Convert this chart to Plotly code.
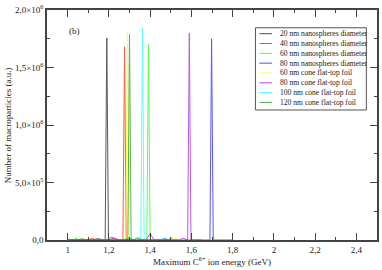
import plotly.graph_objects as go

# ---------------- data ----------------
series_names = [
    "20 nm nanospheres diameter",
    "40 nm nanospheres diameter",
    "60 nm nanospheres diameter",
    "80 nm nanospheres diameter",
    "60 nm cone flat-top foil",
    "80 nm cone flat-top foil",
    "100 nm cone flat-top foil",
    "120 nm cone flat-top foil",
]
series_colors = ["#000000", "#ff0000", "#00ff00", "#0000ff",
                 "#ffff00", "#9400d3", "#00ffff", "#008b00"]

# energy (GeV) / number of macroparticles for each series
x_20nm = [1.00, 1.12, 1.15, 1.17, 1.182, 1.190, 1.198, 1.22, 1.30]
y_20nm = [0, 0, 12000, 0, 0, 1757000, 0, 0, 0]

x_40nm = [1.00, 1.10, 1.12, 1.14, 1.19, 1.21, 1.23, 1.25, 1.268, 1.276, 1.284, 1.30, 1.32, 1.35]
y_40nm = [0, 0, 15000, 0, 0, 25000, 15000, 0, 0, 1680000, 0, 10000, 0, 0]

x_60nm = [1.00, 1.03, 1.04, 1.05, 1.25, 1.30, 1.32, 1.384, 1.392, 1.400, 1.45, 1.49, 1.50, 1.51, 1.55]
y_60nm = [0, 0, 20000, 0, 0, 15000, 0, 0, 1700000, 0, 0, 0, 20000, 0, 0]

x_80nm = [1.00, 1.30, 1.45, 1.47, 1.49, 1.60, 1.690, 1.698, 1.706, 1.75, 1.80]
y_80nm = [0, 0, 0, 12000, 0, 0, 0, 1750000, 0, 0, 0]

x_cone60 = [1.00, 1.08, 1.10, 1.12, 1.20, 1.25, 1.282, 1.290, 1.298, 1.35, 1.50, 1.52, 1.54, 1.57, 1.60]
y_cone60 = [0, 0, 15000, 0, 0, 0, 0, 1800000, 0, 0, 0, 25000, 0, 0, 0]

x_cone80 = [1.00, 1.20, 1.22, 1.24, 1.38, 1.40, 1.42, 1.54, 1.56, 1.582, 1.590, 1.598, 1.65]
y_cone80 = [0, 0, 15000, 0, 0, 55000, 0, 0, 15000, 0, 1800000, 0, 0]

x_cone100 = [1.00, 1.33, 1.345, 1.355, 1.363, 1.371, 1.45, 1.47, 1.49, 1.55]
y_cone100 = [0, 0, 15000, 0, 1840000, 0, 0, 20000, 0, 0]

x_cone120 = [1.00, 1.05, 1.07, 1.09, 1.28, 1.292, 1.300, 1.308, 1.32, 1.34, 1.36, 1.50]
y_cone120 = [0, 0, 12000, 0, 0, 0, 1790000, 0, 0, 20000, 0, 0]

series_x = [x_20nm, x_40nm, x_60nm, x_80nm, x_cone60, x_cone80, x_cone100, x_cone120]
series_y = [y_20nm, y_40nm, y_60nm, y_80nm, y_cone60, y_cone80, y_cone100, y_cone120]

x_tickvals = [1.0, 1.2, 1.4, 1.6, 1.8, 2.0, 2.2, 2.4]
x_ticktext = ["1", "1,2", "1,4", "1,6", "1,8", "2", "2,2", "2,4"]
y_tickvals = [0, 500000, 1000000, 1500000, 2000000]
y_ticktext = ["0,0", "5,0×10<sup>5</sup>", "1,0×10<sup>6</sup>",
              "1,5×10<sup>6</sup>", "2,0×10<sup>6</sup>"]

# ---------------- figure ----------------
FONT = "Liberation Serif"
fig = go.Figure()
for name, xs, ys, col in zip(series_names, series_x, series_y, series_colors):
    fig.add_trace(go.Scatter(x=xs, y=ys, mode="lines", name=name,
                             line=dict(color=col, width=1), opacity=0.65,
                             showlegend=False))

axis_common = dict(showline=True, linecolor="#444", linewidth=1.5, mirror="ticks",
                   ticks="inside", tickcolor="#444", tickwidth=1, ticklen=7,
                   showgrid=False, zeroline=False,
                   tickfont=dict(family=FONT, size=9, color="#222"))

fig.update_xaxes(range=[0.9, 2.5], tickvals=x_tickvals, ticktext=x_ticktext,
                 minor=dict(ticks="inside", ticklen=3.5, dtick=0.1, tick0=0.9,
                            tickcolor="#444", showgrid=False),
                 **axis_common)
fig.update_yaxes(range=[0, 2000000], tickvals=y_tickvals, ticktext=y_ticktext,
                 minor=dict(ticks="inside", ticklen=3.5, dtick=250000,
                            tickcolor="#444", showgrid=False),
                 **axis_common)

# custom compact legend (xmgrace style)
plot_l, plot_r, plot_t, plot_b = 47, 379, 7, 240
W, H = plot_r - plot_l, plot_b - plot_t
def px(x): return (x - plot_l) / W
def py(y): return (plot_b - y) / H

shapes = [dict(type="rect", xref="paper", yref="paper",
               x0=px(256.7), x1=px(368.3), y0=py(108.3), y1=py(25),
               line=dict(color="#555", width=1), fillcolor="white", layer="above")]
annotations = []
for i, (name, col) in enumerate(zip(series_names, series_colors)):
    yy = 31 + 9.95 * i
    shapes.append(dict(type="line", xref="paper", yref="paper",
                       x0=px(260.7), x1=px(273.3), y0=py(yy), y1=py(yy),
                       line=dict(color=col, width=1), layer="above", opacity=0.7))
    annotations.append(dict(text=name, xref="paper", yref="paper", x=px(279.5), y=py(yy),
                            xanchor="left", yanchor="middle", showarrow=False,
                            font=dict(family=FONT, size=7.6, color="#222")))

annotations.append(dict(text="(b)", xref="paper", yref="paper", x=px(75), y=py(28.5),
                        xanchor="center", yanchor="middle", showarrow=False,
                        font=dict(family=FONT, size=9, color="#222")))
annotations.append(dict(text="Number of macroparticles (a.u.)", xref="paper", yref="paper",
                        x=px(8), y=0.5, xanchor="center", yanchor="middle",
                        textangle=-90, showarrow=False,
                        font=dict(family=FONT, size=9, color="#222")))
annotations.append(dict(text="Maximum C<sup>6+</sup> ion energy (GeV)", xref="paper",
                        yref="paper", x=0.5, y=py(261.5), xanchor="center",
                        yanchor="middle", showarrow=False,
                        font=dict(family=FONT, size=9, color="#222")))

fig.update_layout(width=382, height=270,
                  margin=dict(l=plot_l, r=382 - plot_r, t=plot_t, b=270 - plot_b),
                  plot_bgcolor="white", paper_bgcolor="white",
                  shapes=shapes, annotations=annotations, showlegend=False)

fig.write_html("out.html", config={"displayModeBar": False},
               post_script="document.body.style.margin='0';")
